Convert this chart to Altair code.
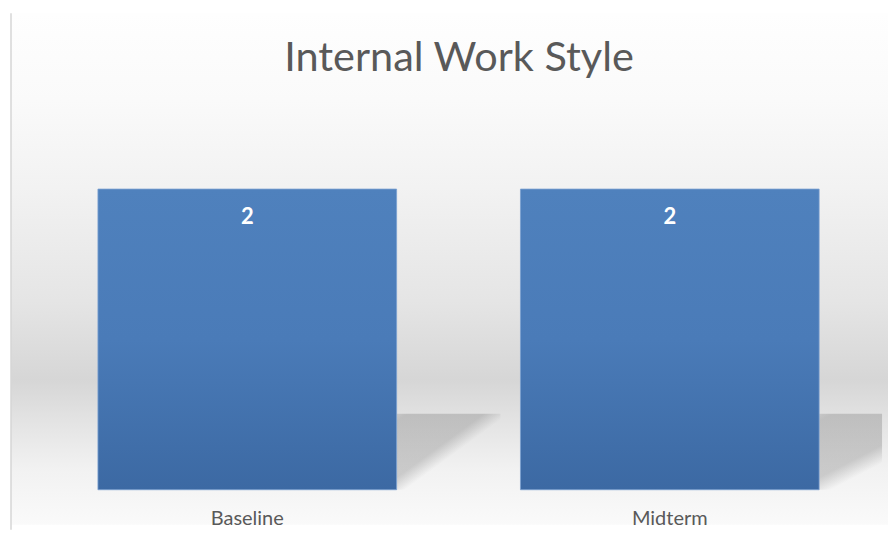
import altair as alt
import pandas as pd

categories = ["Baseline", "Midterm"]
values = [2, 2]
chart_title = "Internal Work Style"

df = pd.DataFrame({"Category": categories, "Value": values})

W, H = 878, 512
FONT = "Lato"
TXT = "#595959"

xenc = alt.X(
    "Category:N",
    sort=categories,
    scale=alt.Scale(paddingInner=0.2931, paddingOuter=0.1844, align=0.558),
    axis=alt.Axis(title=None, labelAngle=0, ticks=False, domain=False, grid=False,
                  labelFont=FONT, labelFontSize=20, labelColor=TXT, zindex=2,
                  labelBaseline="alphabetic", labelPadding=0, offset=0),
)
yscale = alt.Scale(domain=[-0.2326, 3.1694], nice=False, zero=False)

base = alt.Chart(df)
first = base.transform_filter(alt.datum.Category == categories[0])

bg_grad = alt.Gradient(
    gradient="linear", x1=0, x2=0, y1=0, y2=1,
    stops=[
        alt.GradientStop(offset=0.0, color="#fefefe"),
        alt.GradientStop(offset=0.17, color="#fafafa"),
        alt.GradientStop(offset=0.34, color="#f2f2f2"),
        alt.GradientStop(offset=0.563, color="#e5e5e5"),
        alt.GradientStop(offset=0.717, color="#d6d6d6"),
        alt.GradientStop(offset=0.815, color="#e6e6e6"),
        alt.GradientStop(offset=0.895, color="#f2f2f2"),
        alt.GradientStop(offset=1.0, color="#fafafa"),
    ],
)
background = first.mark_rect(color=bg_grad).encode(
    x=alt.value(0), x2=alt.value(W), y=alt.value(0), y2=alt.value(H)
)


def shade(x2, y2, edge):
    return alt.Gradient(
        gradient="linear", x1=0, y1=0, x2=x2, y2=y2,
        stops=[
            alt.GradientStop(offset=0.0, color="rgba(110,110,110,0.22)"),
            alt.GradientStop(offset=0.05, color="rgba(110,110,110,0.30)"),
            alt.GradientStop(offset=edge - 0.08, color="rgba(110,110,110,0.30)"),
            alt.GradientStop(offset=edge + 0.04, color="rgba(110,110,110,0.0)"),
            alt.GradientStop(offset=1.0, color="rgba(110,110,110,0.0)"),
        ],
    )


# perspective shadows to the right of each bar (widths in px, gradient direction)
shadow_style = {
    "Baseline": dict(width=104, xOffset=201.5, grad=shade(1, 1, 0.5)),
    "Midterm": dict(width=63, xOffset=181, grad=shade(0.726, 1.688, 0.5)),
}
shadow_layers = []
for cat in categories:
    s = shadow_style[cat]
    shadow_layers.append(
        base.transform_filter(alt.datum.Category == cat)
        .transform_calculate(shadow_top="datum.Value * 0.253")
        .mark_bar(color=s["grad"], width=s["width"], xOffset=s["xOffset"])
        .encode(
            x=xenc,
            y=alt.Y("shadow_top:Q", scale=yscale, axis=None),
            y2=alt.datum(0),
        )
    )

bar_grad = alt.Gradient(
    gradient="linear", x1=0, x2=0, y1=0, y2=1,
    stops=[
        alt.GradientStop(offset=0.0, color="#4f81bd"),
        alt.GradientStop(offset=0.5, color="#4a7bb8"),
        alt.GradientStop(offset=1.0, color="#3c69a3"),
    ],
)
bars = base.mark_bar(color=bar_grad, stroke="#7a9fd0", strokeWidth=0.8).encode(
    x=xenc,
    y=alt.Y("Value:Q", scale=yscale, axis=None),
    y2=alt.datum(0),
)

labels = base.mark_text(
    dy=28, baseline="middle", align="center", font=FONT, fontSize=22,
    fontWeight="bold", color="white",
).encode(x=xenc, y=alt.Y("Value:Q", scale=yscale, axis=None), text="Value:Q")

title = first.mark_text(
    text=chart_title, font=FONT, fontSize=41.5, color=TXT,
    align="center", baseline="alphabetic",
).encode(x=alt.value(448.5), y=alt.value(58))

left_rule = first.mark_rule(color="#d6d6d6", strokeWidth=1.5).encode(
    x=alt.value(0), y=alt.value(0), y2=alt.value(H + 5)
)

chart = alt.layer(background, *shadow_layers, bars, labels, title, left_rule).properties(
    width=W, height=H,
    padding={"left": 2, "top": 4, "right": 0, "bottom": 0},
).configure_view(stroke=None)

chart.save("out.html", embed_options={"renderer": "svg", "actions": False})
